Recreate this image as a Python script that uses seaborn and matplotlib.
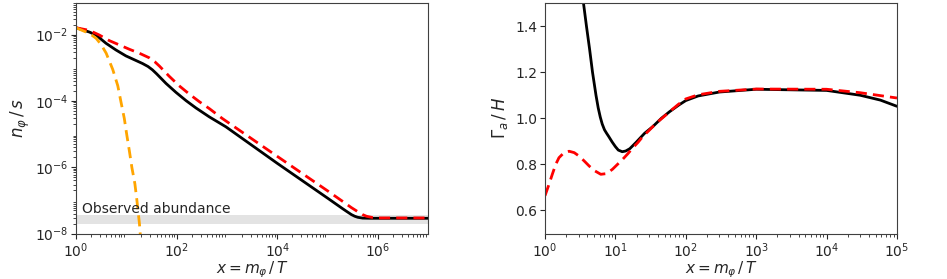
import numpy as np
import pandas as pd
import matplotlib
matplotlib.use("Agg")
import matplotlib.pyplot as plt
import seaborn as sns

# left panel: n_phi / s against x = m_phi / T (values as log10 of n/s)
x_full = [1, 1.84, 2.5, 3.95, 6.2, 9.8, 15.6, 21, 27, 33, 40, 61.5, 97, 154,
          242, 447, 955, 1e4, 1e5, 2e5, 2.5e5, 3e5, 3.5e5, 4e5, 5e5, 7e5, 1e7]
logn_full = [-1.79, -1.92, -2.01, -2.26, -2.46, -2.64, -2.78, -2.87, -2.96,
             -3.06, -3.18, -3.47, -3.74, -3.99, -4.21, -4.48, -4.78, -5.88,
             -6.93, -7.25, -7.35, -7.43, -7.48, -7.51, -7.535, -7.54, -7.54]

x_approx = [1, 1.84, 2.9, 4.6, 7.3, 11.5, 18.2, 28.8, 37, 45.7, 70.8, 112,
            178, 282, 447, 813, 1e4, 1e5, 2e5, 3e5, 4e5, 5e5, 6e5, 8e5, 1e6,
            1e7]
logn_approx = [-1.79, -1.87, -2.01, -2.18, -2.31, -2.44, -2.56, -2.70, -2.82,
               -2.95, -3.25, -3.54, -3.79, -4.02, -4.23, -4.53, -5.67, -6.71,
               -7.03, -7.22, -7.34, -7.43, -7.48, -7.52, -7.53, -7.53]

x_eq = [1, 1.58, 2.0, 2.51, 3.16, 3.98, 5.37, 6.76, 7.85, 9.12, 10.2, 11.5,
        12.9, 14.8, 16.2, 18.2, 19.1]
logn_eq = [-1.79, -1.92, -2.0, -2.11, -2.30, -2.56, -3.05, -3.54, -4.04,
           -4.53, -5.02, -5.51, -6.01, -6.50, -6.99, -7.69, -8.1]

obs_low, obs_high = 2.0e-8, 3.7e-8

# right panel: Gamma_a / H
x_rate = [3.3, 3.52, 3.88, 4.3, 4.73, 5.3, 5.7, 6.1, 6.5, 7, 7.5, 8, 9, 10,
          11, 12.5, 14, 16, 19.6, 26, 34, 45, 59, 80, 100, 150, 300, 1e3, 1e4,
          3e4, 5.8e4, 1e5]
g_full = [1.62, 1.5, 1.4, 1.3, 1.2, 1.1, 1.045, 1.005, 0.975, 0.95, 0.935,
          0.922, 0.897, 0.877, 0.862, 0.855, 0.858, 0.868, 0.895, 0.935, 0.964,
          1.0, 1.029, 1.058, 1.077, 1.097, 1.114, 1.126, 1.121, 1.1, 1.079,
          1.052]

x_rate2 = [1, 1.13, 1.27, 1.42, 1.58, 1.85, 2.2, 2.6, 3.05, 3.6, 4.24, 5.1,
           6.2, 7.5, 9.1, 10.7, 12.6, 15, 17.6, 21, 24.5, 30, 38, 48, 59, 78,
           100, 150, 300, 1e3, 1e4, 3e4, 1e5]
g_approx = [0.664, 0.71, 0.757, 0.80, 0.829, 0.85, 0.857, 0.851, 0.836, 0.815,
            0.793, 0.772, 0.757, 0.760, 0.779, 0.80, 0.821, 0.846, 0.871,
            0.896, 0.921, 0.947, 0.979, 1.005, 1.029, 1.06, 1.084, 1.102,
            1.117, 1.127, 1.126, 1.111, 1.088]

sns.set_style("ticks")
plt.rcParams["font.family"] = "DejaVu Sans"
plt.rcParams["mathtext.fontset"] = "dejavusans"

fig = plt.figure(figsize=(9.47, 2.79), dpi=100)
ax1 = fig.add_axes([0.0803, 0.163, 0.3717, 0.826])
ax2 = fig.add_axes([0.5755, 0.163, 0.3717, 0.826])

dash = (4, 2.2)

ax1.axhspan(obs_low, obs_high, color="#e3e3e3", lw=0, zorder=0)
ax1.text(1.32, 4.1e-8, "Observed abundance", fontsize=10)
sns.lineplot(x=x_full, y=np.power(10.0, logn_full), ax=ax1, color="black",
             lw=2, sort=False)
sns.lineplot(x=x_approx, y=np.power(10.0, logn_approx), ax=ax1, color="red",
             lw=2, sort=False).lines[-1].set_dashes(dash)
sns.lineplot(x=x_eq, y=np.power(10.0, logn_eq), ax=ax1, color="orange",
             lw=2, sort=False).lines[-1].set_dashes(dash)
ax1.set_xscale("log")
ax1.set_yscale("log")
ax1.set_xlim(1, 1e7)
ax1.set_ylim(1e-8, 9e-2)
ax1.set_xticks([1, 1e2, 1e4, 1e6])
ax1.set_yticks([1e-8, 1e-6, 1e-4, 1e-2])
ax1.set_xlabel(r"$x = m_\varphi\,/\,T$", fontsize=11, labelpad=-0.5)
ax1.set_ylabel(r"$n_\varphi\,/\,s$", fontsize=12, labelpad=2)

sns.lineplot(x=x_rate, y=g_full, ax=ax2, color="black", lw=2, sort=False)
sns.lineplot(x=x_rate2, y=g_approx, ax=ax2, color="red", lw=2,
             sort=False).lines[-1].set_dashes(dash)
ax2.set_xscale("log")
ax2.set_xlim(1, 1e5)
ax2.set_ylim(0.5, 1.5)
ax2.set_yticks([0.6, 0.8, 1.0, 1.2, 1.4])
ax2.set_xlabel(r"$x = m_\varphi\,/\,T$", fontsize=11, labelpad=-0.5)
ax2.set_ylabel(r"$\Gamma_a\,/\,H$", fontsize=12, labelpad=4)

for ax in (ax1, ax2):
    ax.tick_params(labelsize=10, pad=2)
    for s in ax.spines.values():
        s.set_linewidth(0.8)
        s.set_color("0.25")

fig.savefig("out.png", dpi=100)
